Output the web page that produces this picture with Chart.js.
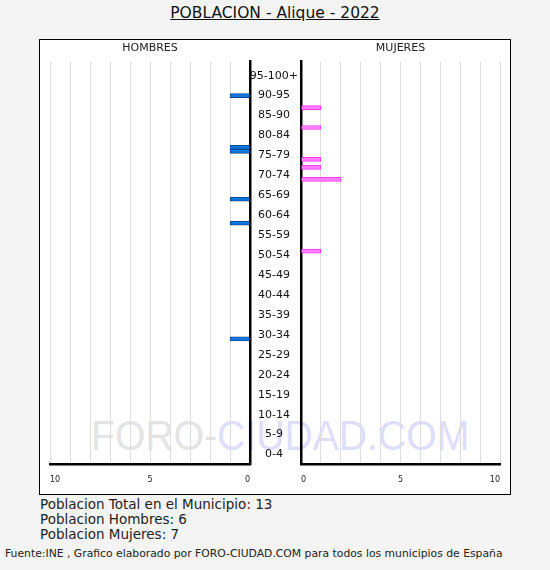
<!DOCTYPE html>
<html>
<head>
<meta charset="utf-8">
<script src="https://cdn.jsdelivr.net/npm/chart.js@4"></script>
<style>
  html, body { margin:0; padding:0; background:#f4f4f4; }
  body { width:550px; height:570px; position:relative; overflow:hidden; font-family:"DejaVu Sans", Verdana, sans-serif; color:#222; }
  #title { position:absolute; left:0; width:550px; top:4px; text-align:center; font-size:15.5px; text-decoration:underline; color:#111; }
  #box { position:absolute; left:39px; top:39px; width:470px; height:454px; border:1px solid #000; background:#fff; }
  #wm { position:absolute; left:91px; top:414px; font-family:"Liberation Sans", Arial, sans-serif; font-size:43px; white-space:nowrap; transform-origin:0 0; transform:scaleX(0.91); line-height:1; }
  #wm .a { color:#e4e4e4; } #wm .b { color:#dedefb; }
  #cl { position:absolute; left:40px; top:40px; width:212px; height:454px; }
  #cr { position:absolute; left:251px; top:40px; width:259px; height:454px; }
  .info { position:absolute; left:40px; font-size:13.5px; line-height:15px; }
  #foot { position:absolute; left:5px; top:547px; font-size:10.8px; }
</style>
</head>
<body>
<div id="title">POBLACION - Alique - 2022</div>
<div id="box"></div>
<div id="wm"><span class="a">FORO-</span><span class="b">CIUDAD.COM</span></div>
<canvas id="cl" width="212" height="454"></canvas>
<canvas id="cr" width="259" height="454"></canvas>
<div class="info" style="top:497px">Poblacion Total en el Municipio: 13</div>
<div class="info" style="top:512px">Poblacion Hombres: 6</div>
<div class="info" style="top:527px">Poblacion Mujeres: 7</div>
<div id="foot">Fuente:INE , Grafico elaborado por FORO-CIUDAD.COM para todos los municipios de España</div>
<script>
// Age groups (tick labels), bottom to top
const groupLabels = ["0-4","5-9","10-14","15-19","20-24","25-29","30-34","35-39","40-44","45-49","50-54","55-59","60-64","65-69","70-74","75-79","80-84","85-90","90-95","95-100+"];
// Single-year ages, top (100) to bottom (0)
const ages = Array.from({length:101}, (_, i) => 100 - i);
// Men: ages with population and counts
const menAges   = [92, 79, 78, 66, 60, 31];
const menCounts = [1, 1, 1, 1, 1, 1];
// Women: ages with population and counts
const womenAges   = [89, 84, 76, 74, 71, 53];
const womenCounts = [1, 1, 1, 1, 2, 1];
const xTicks = [0, 5, 10];

function buildSeries(a, c) {
  return ages.map(age => { const k = a.indexOf(age); return k >= 0 ? c[k] : 0; });
}
// men drawn to the left: negative side of the axis
const menData = buildSeries(menAges, menCounts).map(v => -v);
const womenData = buildSeries(womenAges, womenCounts);

const FONT = "'DejaVu Sans', Verdana, sans-serif";
Chart.defaults.font.family = FONT;
Chart.defaults.color = '#222';

function xScale(min, max) {
  return {
    type: 'linear', min: min, max: max,
    grid: { color: '#dddddd', lineWidth: 1, drawTicks: false },
    border: { display: true, color: '#000', width: 2.5 },
    afterFit: s => { s.height = 29.5; s.paddingLeft = 0; s.paddingRight = 0; },
    ticks: {
      stepSize: 1, padding: 11, align: 'inner', maxRotation: 0, autoSkip: false,
      font: { size: 8 },
      callback: v => xTicks.includes(Math.abs(v)) ? String(Math.abs(v)) : ''
    }
  };
}

new Chart(document.getElementById('cl'), {
  type: 'bar',
  data: { labels: ages, datasets: [{
    data: menData, backgroundColor: '#0a78e0', borderColor: '#0b4a92', borderWidth: 1,
    categoryPercentage: 1, barPercentage: 1
  }]},
  options: {
    indexAxis: 'y', responsive: false, animation: false,
    layout: { padding: { left: 10, right: 2, top: 0, bottom: 0 } },
    plugins: {
      legend: { display: false }, tooltip: { enabled: false },
      title: { display: true, text: 'HOMBRES', fullSize: false, color: '#222',
        font: { size: 11, weight: 'normal' }, padding: { top: 2, bottom: 6.5 } }
    },
    scales: {
      x: xScale(-10, 0),
      y: { position: 'right', grid: { display: false, drawTicks: false },
        border: { display: true, color: '#000', width: 2.5 },
        afterFit: s => { s.width = 0; },
        ticks: { display: false } }
    }
  }
});

new Chart(document.getElementById('cr'), {
  type: 'bar',
  data: { labels: ages, datasets: [{
    data: womenData, backgroundColor: '#ff80ff', borderColor: '#ff33ff', borderWidth: 1,
    categoryPercentage: 1, barPercentage: 1
  }]},
  options: {
    indexAxis: 'y', responsive: false, animation: false,
    layout: { padding: { left: 0, right: 10, top: 0, bottom: 0 } },
    plugins: {
      legend: { display: false }, tooltip: { enabled: false },
      title: { display: true, text: 'MUJERES', fullSize: false, color: '#222',
        font: { size: 11, weight: 'normal' }, padding: { top: 2, bottom: 6.5 } }
    },
    scales: {
      x: xScale(0, 10),
      y: { position: 'left', grid: { display: false, drawTicks: false },
        border: { display: true, color: '#000', width: 2.5 },
        afterFit: s => { s.width = 50; },
        ticks: { autoSkip: false, crossAlign: 'center', padding: 3, color: '#111',
          font: { size: 11 },
          callback: function(v, i) { const age = ages[i]; return age % 5 === 2 ? groupLabels[(age - 2) / 5] : ''; } } }
    }
  }
});
</script>
</body>
</html>
